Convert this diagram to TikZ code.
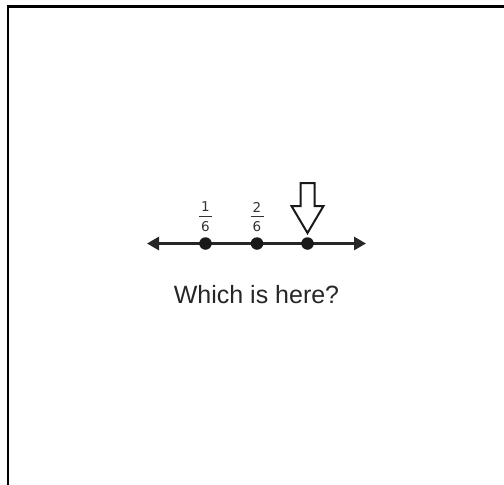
\documentclass[tikz,border=0pt]{standalone}
\usepackage{fontspec}
\setmainfont{Liberation Sans}
\newfontfamily\fracfont{DejaVu Sans}
\usetikzlibrary{arrows.meta}
\begin{document}
\begin{tikzpicture}[x=1pt,y=-1pt,
  frameline/.style={line width=2.6pt,black},
  numline/.style={line width=2.8pt,black!85,{Triangle[length=12pt,width=13pt]}-{Triangle[length=12pt,width=13pt]}},
  tick/.style={circle,fill=black!90,inner sep=0pt,minimum size=12.5pt},
  digit/.style={font=\fracfont\fontsize{13.5}{14}\selectfont,text=black!80,inner sep=0pt},
  fracbar/.style={line width=1.4pt,black!80},
  pointer/.style={line width=2pt,black!90,fill=white,line join=miter},
  caption/.style={font=\fontsize{25}{28}\selectfont,text=black!85,inner sep=0pt}]
\useasboundingbox (0,0) rectangle (504,485);
\coordinate (fb) at (8,485);
\coordinate (fc) at (8,6.5);
\coordinate (fr) at (504,6.5);
\draw[frameline] (fb) -- (fc) -- (fr);
\coordinate (L) at (147,243.5);
\coordinate (R) at (366,243.5);
\draw[numline] (L) -- (R);
\node[tick] (d1) at (205.5,243.5) {};
\node[tick] (d2) at (257,243.5) {};
\node[tick] (d3) at (307.5,243.5) {};
% fraction 1/6
\node[digit] (n1) at (205.5,207) {1};
\node[digit] (m1) at (205.5,227) {6};
\coordinate (b1l) at (199,216.5);
\coordinate (b1r) at (212,216.5);
\draw[fracbar] (b1l) -- (b1r);
% fraction 2/6
\node[digit] (n2) at (257,207) {2};
\node[digit] (m2) at (257,227) {6};
\coordinate (b2l) at (250.5,216.5);
\coordinate (b2r) at (263.5,216.5);
\draw[fracbar] (b2l) -- (b2r);
\draw[pointer] (300.5,183) -- (314.5,183) -- (314.5,206) -- (323.5,206) -- (307.5,233) -- (291.5,206) -- (300.5,206) -- cycle;
\node[caption] (q) at (256.5,295) {Which is here?};
\end{tikzpicture}
\end{document}
